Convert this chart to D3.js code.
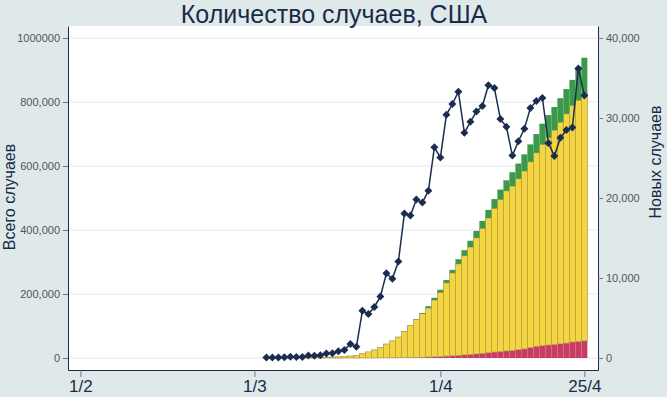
<!DOCTYPE html>
<html>
<head>
<meta charset="utf-8">
<script src="https://cdn.jsdelivr.net/npm/d3@7"></script>
<style>
  body { margin: 0; background: #dfe9e9; }
  svg { display: block; font-family: "Liberation Sans", Arial, sans-serif; }
</style>
</head>
<body>
<div id="chart"></div>
<script>
// Data: one entry per day, starting 3 March 2020
const startDay = Date.UTC(2020, 2, 3)

// cumulative confirmed cases
const confirmed = [124, 158, 221, 319, 435, 541, 704, 994, 1301, 1630, 2183, 2770, 3613, 4596, 6344, 7801,
  13680, 19101, 25493, 33276, 43847, 53740, 65778, 83836, 101657, 121465, 140909, 161831, 188172,
  213242, 243622, 275367, 308650, 336802, 366317, 397121, 428654, 462780, 496535, 526396, 555313,
  580619, 607670, 636350, 667592, 699706, 732197, 759086, 784326, 811865, 840351, 869170, 905358, 938154]

// cumulative deaths
const deaths = [7, 11, 12, 14, 17, 21, 22, 28, 36, 40, 47, 54, 63, 85, 108, 118,
  200, 244, 307, 427, 552, 706, 942, 1209, 1581, 2026, 2467, 2978, 3873,
  4757, 5926, 7087, 8407, 9619, 10783, 12722, 14695, 16478, 18586, 20463, 22020,
  23529, 25832, 28325, 32916, 36773, 38664, 40661, 42094, 44444, 46622, 49954, 51949, 53755]

// cumulative recovered
const recovered = [7, 7, 7, 7, 7, 7, 7, 8, 8, 12, 12, 12, 12, 17, 17, 106,
  108, 147, 171, 178, 178, 348, 361, 681, 869, 1072, 2665, 5644, 7024,
  8474, 9001, 9707, 14652, 17448, 19581, 21763, 23559, 25410, 28790, 31270, 32988,
  43482, 47763, 52096, 54703, 58545, 64840, 70337, 72329, 75204, 77366, 80203, 100000, 112000]

// new cases per day
const newCases = [50, 60, 70, 100, 150, 110, 130, 300, 290, 330, 550, 590, 850, 1000, 1750, 1400,
  5900, 5500, 6380, 7700, 10580, 9900, 12050, 18050, 17800, 19800, 19450, 20900, 26340,
  25060, 30400, 31750, 33280, 28150, 29520, 30800, 31500, 34100, 33760, 29860, 28900,
  25300, 27100, 28650, 31240, 32110, 32500, 26890, 25240, 27540, 28490, 28800, 36190, 32800]

const xTicks = [Date.UTC(2020, 1, 1), Date.UTC(2020, 2, 1), Date.UTC(2020, 3, 1), Date.UTC(2020, 3, 25)]
const leftTicks = [0, 200000, 400000, 600000, 800000, 1000000]
const rightTicks = [0, 10000, 20000, 30000, 40000]

const rows = confirmed.map((c, i) => ({
  date: new Date(startDay + i * 864e5),
  deaths: deaths[i],
  active: c - deaths[i] - recovered[i],
  recovered: recovered[i],
  newCases: newCases[i]
}))

// Margin convention
const W = 667, H = 397
const margin = { top: 26, right: 69, bottom: 27, left: 68 }
const width = W - margin.left - margin.right
const height = H - margin.top - margin.bottom

const svg = d3.select("#chart").append("svg")
    .attr("width", W)
    .attr("height", H)

svg.append("rect").attr("width", W).attr("height", H).attr("fill", "#dfe9e9")

const g = svg.append("g")
    .attr("transform", "translate(" + margin.left + "," + margin.top + ")")

g.append("rect").attr("width", width).attr("height", height).attr("fill", "#ffffff")

const x = d3.scaleUtc()
    .domain([new Date(Date.UTC(2020, 0, 29, 22, 20)), new Date(Date.UTC(2020, 3, 27, 6, 30))])
    .range([0, width])

const yLeft = d3.scaleLinear().domain([-37500, 1037500]).range([height, 0])
const yRight = d3.scaleLinear().domain([-1500, 41500]).range([height, 0])

// gridlines
g.selectAll(".grid")
  .data(leftTicks)
  .join("line")
    .attr("x1", 0).attr("x2", width)
    .attr("y1", d => yLeft(d)).attr("y2", d => yLeft(d))
    .attr("stroke", "#e4e8e8")
    .attr("stroke-width", 1.2)

// stacked bars
const keys = ["deaths", "active", "recovered"]
const colors = { deaths: "#c83b62", active: "#f5d53f", recovered: "#3a9a4a" }
const series = d3.stack().keys(keys)(rows)
const barW = 6

g.selectAll(".layer")
  .data(series)
  .join("g")
    .attr("fill", d => colors[d.key])
    .attr("stroke", d => d.key === "active" ? "#ad9a4c" : "none")
    .attr("stroke-width", 0.7)
  .selectAll("rect")
  .data(d => d)
  .join("rect")
    .attr("x", d => x(d.data.date) - barW / 2)
    .attr("width", barW)
    .attr("y", d => yLeft(d[1]))
    .attr("height", d => Math.max(0, yLeft(d[0]) - yLeft(d[1])))

// new cases line
const line = d3.line()
    .x(d => x(d.date))
    .y(d => yRight(d.newCases))

g.append("path")
    .datum(rows)
    .attr("fill", "none")
    .attr("stroke", "#1b2d4f")
    .attr("stroke-width", 1.5)
    .attr("d", line)

g.selectAll(".dot")
  .data(rows)
  .join("path")
    .attr("transform", d => "translate(" + x(d.date) + "," + yRight(d.newCases) + ")")
    .attr("d", "M0,-4L4,0L0,4L-4,0Z")
    .attr("fill", "#1b2d4f")

// axes
const axisColor = "#1a2b4a"

const leftAxis = g.append("g")
    .call(d3.axisLeft(yLeft).tickValues(leftTicks).tickSize(5).tickSizeOuter(0).tickPadding(3)
      .tickFormat(d => d === 1000000 ? "1000000" : d3.format(",")(d)))
leftAxis.selectAll("text").attr("font-size", 11).attr("fill", "#555")

const rightAxis = g.append("g")
    .attr("transform", "translate(" + width + ",0)")
    .call(d3.axisRight(yRight).tickValues(rightTicks).tickSize(5).tickSizeOuter(0).tickPadding(3)
      .tickFormat(d3.format(",")))
rightAxis.selectAll("text").attr("font-size", 11).attr("fill", "#555")

const bottomAxis = g.append("g")
    .attr("transform", "translate(0," + height + ")")
    .call(d3.axisBottom(x).tickValues(xTicks.map(t => new Date(t))).tickSize(7).tickSizeOuter(0).tickPadding(3)
      .tickFormat(d3.utcFormat("%-d/%-m")))
bottomAxis.selectAll("text").attr("font-size", 17).attr("fill", axisColor)

;[leftAxis, rightAxis, bottomAxis].forEach(a => {
  a.select(".domain").attr("stroke", axisColor)
  a.selectAll(".tick line").attr("stroke", "#777")
})

// titles
svg.append("text")
    .attr("x", 334).attr("y", 23)
    .attr("text-anchor", "middle")
    .attr("font-size", 25)
    .attr("fill", axisColor)
    .text("Количество случаев, США")

svg.append("text")
    .attr("transform", "translate(15,197) rotate(-90)")
    .attr("text-anchor", "middle")
    .attr("font-size", 16)
    .attr("fill", axisColor)
    .text("Всего случаев")

svg.append("text")
    .attr("transform", "translate(661,162) rotate(-90)")
    .attr("text-anchor", "middle")
    .attr("font-size", 16)
    .attr("fill", axisColor)
    .text("Новых случаев")
</script>
</body>
</html>
